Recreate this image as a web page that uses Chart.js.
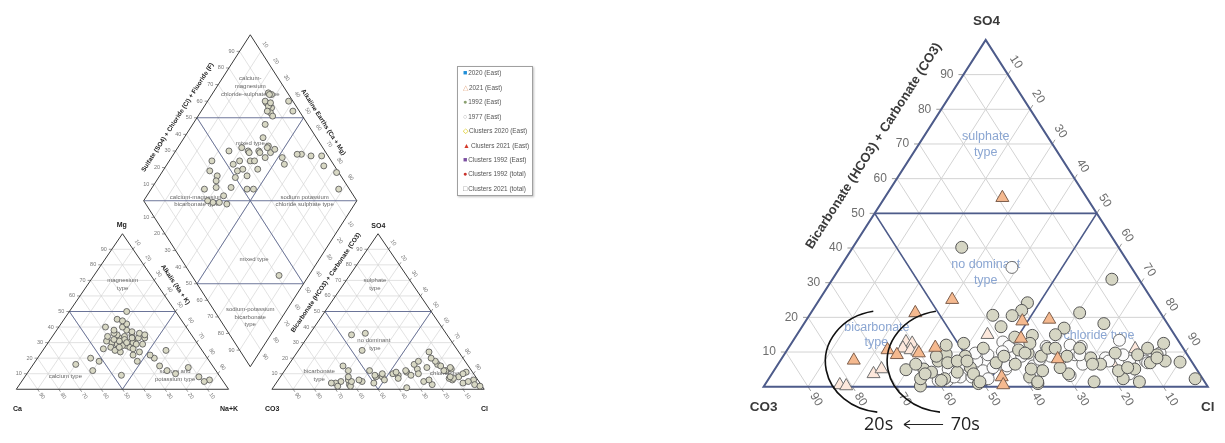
<!DOCTYPE html>
<html>
<head>
<meta charset="utf-8">
<title>Piper diagram</title>
<script src="https://cdn.jsdelivr.net/npm/chart.js@4.4.1/dist/chart.umd.min.js"></script>
<style>
  html, body { margin: 0; padding: 0; background: #fff; }
  body { width: 1225px; height: 443px; position: relative; overflow: hidden; font-family: "Liberation Sans", Arial, sans-serif; }
  .wrap { position: absolute; top: 0; height: 443px; }
  #legend { position: absolute; left: 457px; top: 66px; width: 74px; height: 128px; border: 1px solid #a0a0a0;
            box-shadow: 1px 1px 2px rgba(0,0,0,.25); background: #fff; font-size: 6.4px; color: #555; z-index: 2; }
  #legend div { position: absolute; left: 5px; line-height: 8px; white-space: nowrap; }
  #legend i { font-style: normal; font-size: 7px; margin-right: 1px; }
</style>
</head>
<body>
<div class="wrap" style="left:0;width:560px"><canvas id="piper"></canvas></div>
<div class="wrap" style="left:730px;width:495px"><canvas id="anion"></canvas></div>
<div id="legend">
  <div style="top:2px"><i style="color:#1e8ed8">■</i>2020 (East)</div>
  <div style="top:17px"><i style="color:#e0a27a">△</i>2021 (East)</div>
  <div style="top:31px"><i style="color:#8aa070">●</i>1992 (East)</div>
  <div style="top:46px"><i style="color:#aaa">○</i>1977 (East)</div>
  <div style="top:60px"><i style="color:#d8c300">◇</i>Clusters 2020 (East)</div>
  <div style="top:75px"><i style="color:#d43a2a">▲</i>Clusters 2021 (East)</div>
  <div style="top:89px"><i style="color:#7b4fa0">■</i>Clusters 1992 (East)</div>
  <div style="top:103px"><i style="color:#c8302a">●</i>Clusters 1992 (total)</div>
  <div style="top:118px"><i style="color:#777">□</i>Clusters 2021 (total)</div>
</div>
<script>
// ---- data (percent of meq/l) ----
const tickValues = [10, 20, 30, 40, 50, 60, 70, 80, 90];

// left Piper plot, one entry per sample
const piperMg  = [30,33,28,35,31,27,34,29,32,36,26,30,38,24,33,29,31,35,27,40,22,32,37,25,30,34,28,33,42,26,31,36,29,32,24,38,30,27,35,33,45,50,18,20,15,12,10,8,14,6,22,18,40,44,20,16,12,9,5,25];
const piperNaK = [35,32,38,30,36,40,34,33,39,28,42,30,33,37,41,45,27,37,31,30,44,35,36,34,40,26,36,44,31,28,33,40,42,30,46,27,37,35,43,38,25,27,30,55,60,65,70,82,74,88,52,48,22,28,25,20,30,45,86,58];
const piperSO4 = [8,6,10,12,5,9,14,4,11,7,13,3,16,8,6,10,12,5,9,15,7,18,4,11,2,13,6,9,20,8,10,12,5,7,3,14,16,1,11,6,35,12,36,6,8,4,3,2,10,5,18,25,5,8,2,6,4,12,15,24];
const piperCl  = [45,82,52,76,30,55,66,28,58,80,62,35,70,48,50,64,75,40,44,72,56,68,46,53,36,78,33,61,65,84,47,57,69,82,74,77,59,63,86,92,20,30,26,71,80,88,94,97,85,90,60,30,35,32,30,38,26,40,26,62];

// right: enlarged anion triangle
const tri2021SO4 = [54.5,25.1,21.3,7.6,10.6,9.2,9.7,11.3,18.9,19.4,13.9,8.0,2.8,0.5];
const tri2021Cl  = [26.5,29.9,23.5,16.5,22.6,25.4,30.1,33.0,48.8,54.6,51.0,62.2,52.2,53.7];
const tri2020SO4 = [15.0,12.9,12.5,11.1,10.6,10.2,3.7,5.1,0.5,0.2,10.9,6.9];
const tri2020Cl  = [42.9,25.6,27.2,25.8,27.8,29.5,22.9,24.0,16.9,18.5,78.2,75.0];
const circ1992SO4 = [40.2,31.0,24.2,22.0,20.6,20.5,21.3,18.2,17.3,16.9,14.8,15.0,14.3,12.5,11.1,9.2,7.4,7.1,2.3,1.4,2.3,1.4,3.7,0.9,2.8,0.9,0.2,4.9,5.1,4.2,7.4,9.4,6.9,2.3,4.2,8.8,5.5,11.1,6.9,8.8,6.5,10.6,9.7,8.8,11.1,4.6,11.1,8.8,11.1,8.3,6.5,4.6,9.2,6.9,9.7,5.1,12.5,6.5,2.3,3.7,8.8,12.0,7.4,12.5,7.4,3.7,1.4,9.7,5.1,1.4,5.5,6.5,5.5,8.3,1.8];
const circ1992Cl  = [24.5,62.9,47.3,47.1,41.3,45.7,60.5,67.5,44.8,59.2,53.1,58.2,49.4,83.8,80.9,84.0,86.7,90.2,96.0,83.9,79.8,73.7,66.8,61.3,58.5,47.9,35.2,29.6,33.5,35.7,35.6,36.4,38.0,39.6,41.5,41.0,43.8,43.9,48.9,49.7,53.4,52.1,54.7,58.1,58.4,60.5,60.1,63.9,65.6,69.5,72.6,77.6,79.6,83.6,74.3,81.0,53.7,31.0,34.2,34.5,34.5,35.1,39.9,38.8,42.1,45.4,48.0,54.0,57.7,61.0,64.0,70.8,79.2,84.4,39.1];
const circ1977SO4 = [34.4,13.4,12.9,11.6,9.2,7.4,6.5,2.8,4.6,1.8,4.6,2.3,8.8,6.0,12.0,11.6,9.2,7.9,6.5,8.3,7.4,3.7,9.2,3.2,11.6,7.9,5.5,9.7,5.1,2.8,1.8,9.7,7.4,10.1,6.0,8.8,9.2,7.4,6.9,5.1,2.8];
const circ1977Cl  = [38.7,73.4,47.4,49.4,45.9,44.3,41.8,42.9,39.9,38.4,47.1,49.4,53.7,57.7,63.0,65.7,65.5,62.9,68.6,72.8,78.7,80.5,76.3,67.4,57.8,58.2,48.9,42.8,52.0,45.5,40.5,84.4,82.3,48.7,51.8,60.2,66.6,74.0,83.0,39.0,41.5];

// ---- layout in chart units (each triangle 100 wide, 100 high) ----
const CATION = { ox: 0, oy: 0 };
const ANION_SMALL = { ox: 120.4, oy: 0 };
const ANION_BIG = { ox: 0, oy: 0 };
const DIAMOND = { B: { x: 110.2, y: 14.5 }, L: { x: 60, y: 121.2 }, R: { x: 160.4, y: 121.2 } };

// top = component at the apex, right = component at the right corner
function tern(tri, top, right) {
  return { x: tri.ox + right + top / 2, y: tri.oy + top };
}
// a = SO4+Cl, c = Ca+Mg
function dia(a, c) {
  const { B, L, R } = DIAMOND;
  return { x: B.x + a / 100 * (R.x - B.x) + c / 100 * (L.x - B.x),
           y: B.y + a / 100 * (R.y - B.y) + c / 100 * (L.y - B.y) };
}

// ---- drawing helpers ----
function px(chart, p) {
  return [chart.scales.x.getPixelForValue(p.x), chart.scales.y.getPixelForValue(p.y)];
}
function seg(ctx, a, b) {
  ctx.beginPath(); ctx.moveTo(a[0], a[1]); ctx.lineTo(b[0], b[1]); ctx.stroke();
}
function dir(from, to) {
  const dx = to[0] - from[0], dy = to[1] - from[1], l = Math.hypot(dx, dy);
  return [dx / l, dy / l];
}
function along(p, d, len) { return [p[0] + d[0] * len, p[1] + d[1] * len]; }
function label(ctx, str, p, rot, align) {
  ctx.save();
  ctx.translate(p[0], p[1]);
  ctx.rotate(rot || 0);
  ctx.textAlign = align || 'center';
  ctx.textBaseline = 'middle';
  ctx.fillText(str, 0, 0);
  ctx.restore();
}
function notes(chart, list, font, color, rot) {
  const ctx = chart.ctx;
  ctx.save();
  ctx.font = font; ctx.fillStyle = color;
  list.forEach(n => label(ctx, n[0], px(chart, { x: n[1], y: n[2] }), n[3] || rot || 0, 'center'));
  ctx.restore();
}

function drawTriangle(chart, tri, st) {
  const ctx = chart.ctx;
  const P = (t, r) => px(chart, tern(tri, t, r));
  ctx.save();
  ctx.strokeStyle = st.grid; ctx.lineWidth = st.gridW;
  tickValues.forEach(k => {
    seg(ctx, P(k, 0), P(k, 100 - k));
    seg(ctx, P(0, k), P(100 - k, k));
    seg(ctx, P(0, 100 - k), P(100 - k, 0));
  });
  ctx.strokeStyle = st.tick; ctx.lineWidth = 1;
  ctx.fillStyle = st.color; ctx.font = st.font;
  tickValues.forEach(k => {
    let e = P(k, 0), d = dir(P(k, 100 - k), e);
    seg(ctx, e, along(e, d, st.tickLen));
    label(ctx, String(k), along(e, d, st.gapL), 0, 'right');
    e = P(100 - k, k); d = dir(P(0, k), e);
    seg(ctx, e, along(e, d, st.tickLen));
    label(ctx, String(k), along(e, d, st.gapR), st.rot, 'center');
    e = P(0, 100 - k); d = dir(P(100 - k, 0), e);
    seg(ctx, e, along(e, d, st.tickLen));
    label(ctx, String(k), along(e, d, st.gapR), st.rot, 'center');
  });
  ctx.strokeStyle = st.region; ctx.lineWidth = st.regionW;
  seg(ctx, P(50, 0), P(50, 50));
  seg(ctx, P(50, 0), P(0, 50));
  seg(ctx, P(50, 50), P(0, 50));
  ctx.strokeStyle = st.edge; ctx.lineWidth = st.edgeW;
  const a = P(0, 0), b = P(0, 100), c = P(100, 0);
  ctx.beginPath(); ctx.moveTo(a[0], a[1]); ctx.lineTo(b[0], b[1]); ctx.lineTo(c[0], c[1]); ctx.closePath(); ctx.stroke();
  ctx.restore();
}

function drawDiamond(chart, st) {
  const ctx = chart.ctx;
  const D = (a, c) => px(chart, dia(a, c));
  ctx.save();
  ctx.strokeStyle = st.grid; ctx.lineWidth = st.gridW;
  tickValues.forEach(k => {
    seg(ctx, D(k, 0), D(k, 100));
    seg(ctx, D(0, k), D(100, k));
  });
  ctx.strokeStyle = st.tick; ctx.lineWidth = 1;
  ctx.fillStyle = st.color; ctx.font = st.font;
  tickValues.forEach(k => {
    let e = D(k, 100);
    seg(ctx, e, [e[0] - st.tickLen, e[1]]);
    label(ctx, String(k), [e[0] - st.gapL, e[1]], 0, 'right');
    e = D(0, 100 - k);
    seg(ctx, e, [e[0] - st.tickLen, e[1]]);
    label(ctx, String(k), [e[0] - st.gapL, e[1]], 0, 'right');
    e = D(100, 100 - k);
    let d = dir(D(0, 100 - k), e);
    label(ctx, String(k), along(e, d, st.gapR), st.rot, 'center');
    e = D(100 - k, 0); d = dir(D(100 - k, 100), e);
    label(ctx, String(k), along(e, d, st.gapR), st.rot, 'center');
  });
  ctx.strokeStyle = st.region; ctx.lineWidth = st.regionW;
  seg(ctx, D(50, 100), D(100, 50));
  seg(ctx, D(0, 50), D(50, 0));
  seg(ctx, D(50, 0), D(50, 100));
  seg(ctx, D(0, 50), D(100, 50));
  seg(ctx, D(0, 100), D(100, 0));
  ctx.strokeStyle = st.edge; ctx.lineWidth = st.edgeW;
  const b = D(0, 0), r = D(100, 0), t = D(100, 100), l = D(0, 100);
  ctx.beginPath(); ctx.moveTo(b[0], b[1]); ctx.lineTo(r[0], r[1]); ctx.lineTo(t[0], t[1]); ctx.lineTo(l[0], l[1]); ctx.closePath(); ctx.stroke();
  ctx.restore();
}

// ---- left: full Piper plot ----
const smallStyle = {
  grid: '#d6d6d6', gridW: 0.7, tick: '#999', tickLen: 3, font: '5.5px "Liberation Sans", Arial, sans-serif',
  color: '#777', gapL: 5, gapR: 8, rot: 0.97, region: '#5d6890', regionW: 0.9, edge: '#3a3a3a', edgeW: 1
};
const piperDecor = {
  id: 'piperDecor',
  beforeDatasetsDraw(chart) {
    drawTriangle(chart, CATION, smallStyle);
    drawTriangle(chart, ANION_SMALL, smallStyle);
    drawDiamond(chart, smallStyle);
    const f = '6px "Liberation Sans", Arial, sans-serif';
    notes(chart, [
      ['magnesium', 50.1, 69.8], ['type', 50.1, 65.2], ['calcium type', 23.1, 8.6],
      ['sodium and', 74.8, 11.3], ['potassium type', 74.8, 6.5],
      ['sulphate', 168.9, 70], ['type', 168.9, 65.2], ['no dominant', 168.4, 31.3], ['type', 168.9, 26.3],
      ['bicarbonate', 142.7, 11.3], ['type', 142.7, 6.5], ['chloride type', 202.9, 10.3],
      ['calcium-', 110.2, 199.6], ['magnesium', 110.2, 195], ['chloride-sulphate type', 110.2, 189.8],
      ['mixed type', 110.2, 158], ['calcium-magnesium', 84.9, 123.5], ['bicarbonate type', 84.9, 118.9],
      ['sodium potassium', 135.8, 123.5], ['chloride sulphate type', 135.8, 118.9], ['mixed type', 112, 83.6],
      ['sodium-potassium', 110.2, 51.1], ['bicarbonate', 110.2, 46.4], ['type', 110.2, 41.6]
    ], f, '#666');
    const b = 'bold 6.4px "Liberation Sans", Arial, sans-serif';
    notes(chart, [
      ['Sulfate (SO4) + Chloride (Cl) + Fluoride (F)', 76, 174.8, -1.0],
      ['Alkaline Earths (Ca + Mg)', 144.6, 171.7, 1.0],
      ['Alkalis (Na + K)', 74.9, 67.3, 0.974],
      ['Bicarbonate (HCO3) + Carbonate (CO3)', 145.8, 68.6, -0.974]
    ], b, '#222');
    notes(chart, [
      ['Mg', 49.7, 105.7], ['Ca', 0.5, -12.6], ['Na+K', 100.2, -12.6],
      ['SO4', 170.5, 105], ['CO3', 120.5, -12.6], ['Cl', 220.5, -12.6]
    ], 'bold 7px "Liberation Sans", Arial, sans-serif', '#222');
  }
};

const piperPoints = [];
piperMg.forEach((m, i) => {
  piperPoints.push(tern(CATION, m, piperNaK[i]));
  piperPoints.push(tern(ANION_SMALL, piperSO4[i], piperCl[i]));
  piperPoints.push(dia(piperSO4[i] + piperCl[i], 100 - piperNaK[i]));
});

new Chart(document.getElementById('piper'), {
  type: 'scatter',
  data: {
    datasets: [{
      data: piperPoints, pointStyle: 'circle', pointRadius: 3,
      pointBackgroundColor: '#d8d8c4', pointBorderColor: '#505050', pointBorderWidth: 0.8
    }]
  },
  options: {
    animation: false, responsive: true, maintainAspectRatio: false, events: [],
    layout: { padding: 0 },
    plugins: { legend: { display: false }, tooltip: { enabled: false } },
    scales: {
      x: { type: 'linear', display: false, min: -5.42, max: 253.84 },
      y: { type: 'linear', display: false, min: -31.45, max: 247.17 }
    }
  },
  plugins: [piperDecor]
});

// ---- right: enlarged anion triangle ----
const bigStyle = {
  grid: '#d3d3d3', gridW: 1, tick: '#9a9a9a', tickLen: 5, font: '12px "Liberation Sans", Arial, sans-serif',
  color: '#6e6e6e', gapL: 10, gapR: 15, rot: 1.0, region: '#4d5b8a', regionW: 1.6, edge: '#4d5b8a', edgeW: 2
};
const anionDecor = {
  id: 'anionDecor',
  beforeDatasetsDraw(chart) {
    drawTriangle(chart, ANION_BIG, bigStyle);
    notes(chart, [
      ['sulphate', 50, 72.1], ['type', 50, 67.5], ['no dominant', 50, 35.1], ['type', 50, 30.6],
      ['bicarbonate', 25.5, 17.1], ['type', 25.4, 12.6], ['chloride type', 75.5, 14.8]
    ], '12.5px "Liberation Sans", Arial, sans-serif', '#8ba6d2');
    notes(chart, [['SO4', 50.2, 105.4], ['CO3', 0, -6], ['Cl', 100, -6]],
      'bold 13.5px "Liberation Sans", Arial, sans-serif', '#3a3a3a');
    notes(chart, [['Bicarbonate (HCO3) + Carbonate (CO3)', 24.8, 69.4, -1.0036]],
      'bold 13px "Liberation Sans", Arial, sans-serif', '#3a3a3a');
  },
  afterDatasetsDraw(chart) {
    const ctx = chart.ctx;
    ctx.save();
    ctx.strokeStyle = '#111'; ctx.lineWidth = 1.6;
    [[26.96, 7.3, 58], [41.1, 7.3, 59]].forEach(a => {
      const c = px(chart, { x: a[0], y: a[1] });
      ctx.beginPath();
      ctx.ellipse(c[0], c[1], a[2], 51, 0, -100 * Math.PI / 180, 96 * Math.PI / 180, true);
      ctx.stroke();
    });
    ctx.fillStyle = '#222';
    ctx.font = '18px "Open Sans", "DejaVu Sans", sans-serif';
    label(ctx, '20s', px(chart, { x: 25.9, y: -11.0 }), 0, 'center');
    label(ctx, '70s', px(chart, { x: 45.4, y: -11.0 }), 0, 'center');
    const s = px(chart, { x: 40.4, y: -10.9 }), e = px(chart, { x: 31.6, y: -10.9 });
    ctx.lineWidth = 1.1; ctx.strokeStyle = '#222';
    seg(ctx, s, e);
    seg(ctx, e, [e[0] + 6, e[1] - 4]);
    seg(ctx, e, [e[0] + 6, e[1] + 4]);
    ctx.restore();
  }
};

const toBig = (so4, cl) => so4.map((s, i) => tern(ANION_BIG, s, cl[i]));

new Chart(document.getElementById('anion'), {
  type: 'scatter',
  data: {
    datasets: [
      { label: '2021', data: toBig(tri2021SO4, tri2021Cl), pointStyle: 'triangle', pointRadius: 7.5,
        pointBackgroundColor: '#f5b98f', pointBorderColor: '#7d5e4c', pointBorderWidth: 1 },
      { label: '1992', data: toBig(circ1992SO4, circ1992Cl), pointStyle: 'circle', pointRadius: 6,
        pointBackgroundColor: '#d6d6c4', pointBorderColor: '#555', pointBorderWidth: 1 },
      { label: '1977', data: toBig(circ1977SO4, circ1977Cl), pointStyle: 'circle', pointRadius: 6,
        pointBackgroundColor: '#fbfbfb', pointBorderColor: '#707070', pointBorderWidth: 1 },
      { label: '2020', data: toBig(tri2020SO4, tri2020Cl), pointStyle: 'triangle', pointRadius: 7.5,
        pointBackgroundColor: '#fde8dc', pointBorderColor: '#6e6e6e', pointBorderWidth: 1 }
    ]
  },
  options: {
    animation: false, responsive: true, maintainAspectRatio: false, events: [],
    layout: { padding: 0 },
    plugins: { legend: { display: false }, tooltip: { enabled: false } },
    scales: {
      x: { type: 'linear', display: false, min: -5.652, max: 101.957 },
      y: { type: 'linear', display: false, min: -13.783, max: 109.068 }
    }
  },
  plugins: [anionDecor]
});
</script>
</body>
</html>
